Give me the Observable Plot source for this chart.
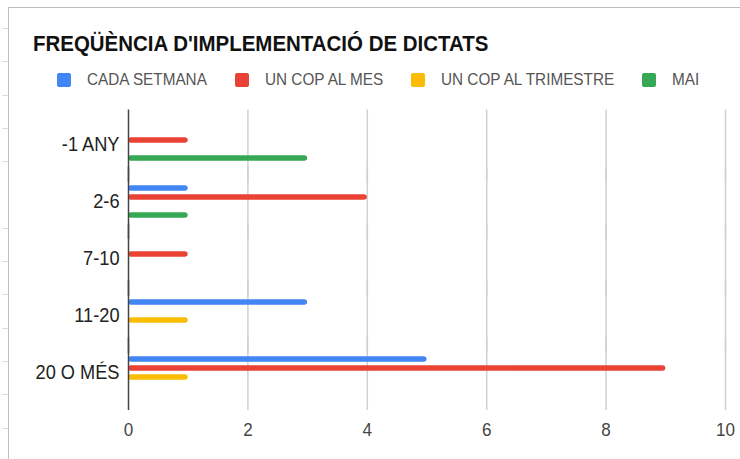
<!DOCTYPE html>
<html>
<head>
<meta charset="utf-8">
<script src="https://cdn.jsdelivr.net/npm/d3@7"></script>
<script src="https://cdn.jsdelivr.net/npm/@observablehq/plot@0.6"></script>
<style>
  html, body { margin: 0; padding: 0; background: #fff; }
  body { width: 740px; height: 459px; position: relative; overflow: hidden; font-family: "Liberation Sans", Arial, sans-serif; }
  #card { position: absolute; left: 8px; top: 7px; width: 732px; height: 452px; border-left: 1px solid #bdbdbd; border-top: 1px solid #bdbdbd; }
  #ticksL { position: absolute; left: 2px; top: 0; width: 6px; height: 459px;
    background: repeating-linear-gradient(to bottom, transparent 0px, transparent 28px, #ddd 28px, #ddd 29px, transparent 29px, transparent 33.3px); }
  #title { position: absolute; left: 33px; top: 31px; font-size: 22px; font-weight: bold; color: #111; white-space: nowrap; transform-origin: 0 0; }
  #legend { position: absolute; left: 57px; top: 70px; display: flex; gap: 28px; font-size: 17px; color: #555; white-space: nowrap; }
  .item { display: flex; align-items: center; }
  .sw { width: 14px; height: 14px; border-radius: 2px; margin-right: 16px; flex: none; }
  .lt { display: inline-block; overflow: visible; }
  .lt span { display: inline-block; transform-origin: 0 50%; }
  #chart { position: absolute; left: 0; top: 95px; }
</style>
</head>
<body>
<div id="ticksL"></div>
<div id="card"></div>
<div id="title"></div>
<div id="legend"></div>
<div id="chart"></div>
<script>
const titleText = "FREQÜÈNCIA D'IMPLEMENTACIÓ DE DICTATS";
const categories = ["-1 ANY", "2-6", "7-10", "11-20", "20 O MÉS"];
const seriesNames = ["CADA SETMANA", "UN COP AL MES", "UN COP AL TRIMESTRE", "MAI"];
const seriesColors = ["#4285F4", "#EA4335", "#FBBC04", "#34A853"];
const cadaSetmana = [0, 1, 0, 3, 5];
const unCopAlMes = [1, 4, 1, 0, 9];
const unCopAlTrimestre = [0, 0, 0, 1, 1];
const mai = [3, 1, 0, 0, 0];
const xTicks = [0, 2, 4, 6, 8, 10];

const seriesValues = [cadaSetmana, unCopAlMes, unCopAlTrimestre, mai];
const data = [];
categories.forEach((c, i) => {
  seriesNames.forEach((s, j) => {
    const v = seriesValues[j][i];
    if (v > 0) data.push({category: c, series: s, value: v});
  });
});

const title = document.getElementById("title");
title.textContent = titleText;
title.style.transform = "scaleX(0.93)";

const legend = document.getElementById("legend");
const squeeze = 0.9;
seriesNames.forEach((s, j) => {
  const it = document.createElement("div");
  it.className = "item";
  const sw = document.createElement("div");
  sw.className = "sw";
  sw.style.background = seriesColors[j];
  const box = document.createElement("div");
  box.className = "lt";
  const t = document.createElement("span");
  t.textContent = s;
  box.appendChild(t);
  it.appendChild(sw); it.appendChild(box);
  legend.appendChild(it);
  const w = t.getBoundingClientRect().width;
  t.style.transform = `scaleX(${squeeze})`;
  box.style.width = (w * squeeze) + "px";
});

const chart = Plot.plot({
  width: 740,
  height: 364,
  marginLeft: 128,
  marginRight: 15,
  marginTop: 19.5,
  marginBottom: 56,
  style: {fontFamily: "'Liberation Sans', Arial, sans-serif", fontSize: "19px", color: "#444", background: "transparent"},
  x: {domain: [0, 10], ticks: xTicks, label: null, tickSize: 0, tickPadding: 21},
  y: {domain: seriesNames, axis: null, padding: 0, insetTop: 10.2, insetBottom: 10.2},
  fy: {domain: categories, padding: 0, label: null, axis: "left", tickSize: 0, tickPadding: 9},
  color: {domain: seriesNames, range: seriesColors},
  marks: [
    Plot.ruleX(xTicks.filter(d => d > 0), {stroke: "#d0d0d0", strokeWidth: 1.5, insetTop: -6.5, insetBottom: -9}),
    Plot.barX(data, {x: "value", y: "series", fy: "category", fill: "series", insetTop: 1.7, insetBottom: 1.7, rx: 3}),
    Plot.ruleX([0], {stroke: "#444", strokeWidth: 1.5, insetTop: -6.5, insetBottom: -9})
  ]
});
document.getElementById("chart").appendChild(chart);
chart.querySelectorAll("g[aria-label='fy-axis tick label'] text").forEach(t => {
  t.setAttribute("fill", "#222");
  t.style.fontSize = "20px";
  const w = t.getComputedTextLength();
  t.setAttribute("textLength", (w * 0.91).toFixed(1));
  t.setAttribute("lengthAdjust", "spacingAndGlyphs");
});
chart.querySelectorAll("g[aria-label='x-axis tick label'] text").forEach(t => {
  const w = t.getComputedTextLength();
  t.setAttribute("textLength", (w * 0.9).toFixed(1));
  t.setAttribute("lengthAdjust", "spacingAndGlyphs");
});
</script>
</body>
</html>
